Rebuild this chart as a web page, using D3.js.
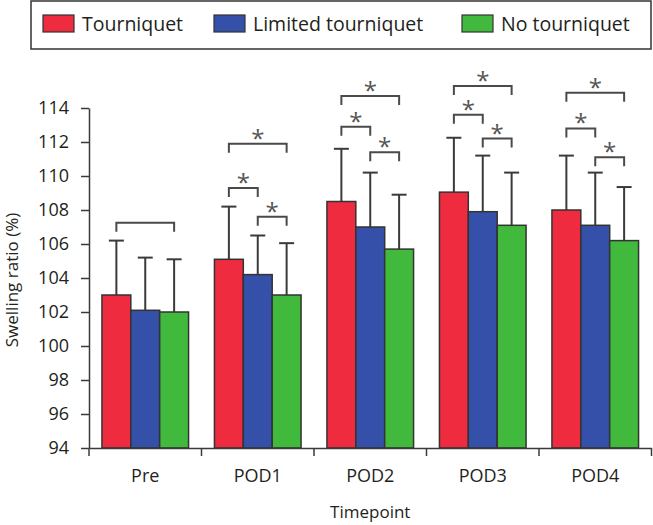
<!DOCTYPE html>
<html>
<head>
<meta charset="utf-8">
<script src="https://cdn.jsdelivr.net/npm/d3@7"></script>
<style>
  html, body { margin: 0; padding: 0; background: #fff; }
  svg { display: block; }
  text { font-family: "Open Sans", "Noto Sans", sans-serif; fill: #231f20; }
</style>
</head>
<body>
<svg id="chart" width="653" height="525"></svg>
<script>
// ---- data ----
const categories = ["Pre", "POD1", "POD2", "POD3", "POD4"];
const seriesNames = ["Tourniquet", "Limited tourniquet", "No tourniquet"];
const seriesColors = ["#ee2b3f", "#3550a8", "#40b93c"];
const tourniquetMean = [103.0, 105.1, 108.5, 109.05, 108.0];
const tourniquetSD   = [3.2, 3.1, 3.1, 3.2, 3.2];
const limitedMean    = [102.1, 104.2, 107.0, 107.9, 107.1];
const limitedSD      = [3.1, 2.3, 3.2, 3.3, 3.1];
const noneMean       = [102.0, 103.0, 105.7, 107.1, 106.2];
const noneSD         = [3.1, 3.05, 3.2, 3.1, 3.15];
const yTicks = [94, 96, 98, 100, 102, 104, 106, 108, 110, 112, 114];
// significance brackets: category index, from series, to series, level (y value), star
const bracketCat   = [0, 1, 1, 1, 2, 2, 2, 3, 3, 3, 4, 4, 4];
const bracketFrom  = [0, 0, 0, 1, 0, 0, 1, 0, 0, 1, 0, 0, 1];
const bracketTo    = [2, 2, 1, 2, 2, 1, 2, 2, 1, 2, 2, 1, 2];
const bracketLevel = [107.25, 111.9, 109.3, 107.6, 114.7, 112.9, 111.4, 115.3, 113.6, 112.2, 114.9, 112.8, 111.1];
const bracketStar  = [false, true, true, true, true, true, true, true, true, true, true, true, true];

const means = [tourniquetMean, limitedMean, noneMean];
const sds = [tourniquetSD, limitedSD, noneSD];

(function draw() {
const svg = d3.select("#chart");
const mLeft = 89, mRight = 651.5, mTop = 108, mBottom = 448;

const x0 = d3.scaleBand().domain(categories).range([mLeft, mRight])
  .paddingInner(0.23).paddingOuter(0.115);
const x1 = d3.scaleBand().domain(d3.range(seriesNames.length)).range([0, x0.bandwidth()]);
const y = d3.scaleLinear().domain([94, 114]).range([mBottom, mTop]);

const lineColor = "#3a3a3a";

// bars
const groups = svg.append("g").selectAll("g").data(categories).join("g")
  .attr("transform", d => `translate(${x0(d)},0)`);

groups.each(function(cat, ci) {
  const g = d3.select(this);
  seriesNames.forEach((s, si) => {
    const v = means[si][ci];
    const sd = sds[si][ci];
    const cx = x1(si) + x1.bandwidth() / 2;
    g.append("line").attr("x1", cx).attr("x2", cx)
      .attr("y1", y(v)).attr("y2", y(v + sd))
      .attr("stroke", lineColor).attr("stroke-width", 2);
    g.append("line").attr("x1", cx - 7.5).attr("x2", cx + 7.5)
      .attr("y1", y(v + sd)).attr("y2", y(v + sd))
      .attr("stroke", lineColor).attr("stroke-width", 2);
    g.append("rect")
      .attr("x", x1(si)).attr("width", x1.bandwidth())
      .attr("y", y(v)).attr("height", y(94) - y(v))
      .attr("fill", seriesColors[si])
      .attr("stroke", "#333").attr("stroke-width", 1.5);
  });
});

// brackets
const legLen = 9;
bracketCat.forEach((ci, i) => {
  const base = x0(categories[ci]);
  const xa = base + x1(bracketFrom[i]) + x1.bandwidth() / 2;
  const xb = base + x1(bracketTo[i]) + x1.bandwidth() / 2;
  const yy = y(bracketLevel[i]);
  svg.append("path")
    .attr("d", `M${xa},${yy + legLen}V${yy}H${xb}V${yy + legLen}`)
    .attr("fill", "none").attr("stroke", "#4a4a4a").attr("stroke-width", 2);
  if (bracketStar[i]) {
    svg.append("text").attr("x", (xa + xb) / 2).attr("y", yy + 3)
      .attr("text-anchor", "middle").style("font-size", "24px").style("fill", "#555")
      .text("*");
  }
});

// y axis
const yAxis = svg.append("g").attr("transform", `translate(${mLeft},0)`)
  .call(d3.axisLeft(y).tickValues(yTicks).tickSize(8).tickSizeOuter(0).tickPadding(12).tickFormat(d3.format("d")));
yAxis.select(".domain").attr("stroke", lineColor).attr("stroke-width", 1.5);
yAxis.selectAll(".tick line").attr("stroke", lineColor).attr("stroke-width", 1.5);
yAxis.selectAll(".tick text").style("font-size", "18px").style("fill", "#231f20")
  .style("font-family", "'Open Sans', sans-serif");

// x axis
const xAxis = svg.append("g").attr("transform", `translate(0,${mBottom})`)
  .call(d3.axisBottom(x0).tickSize(0).tickSizeOuter(0).tickPadding(21));
xAxis.select(".domain").attr("stroke", lineColor).attr("stroke-width", 1.5);
xAxis.selectAll(".tick text").style("font-size", "18px").style("fill", "#231f20")
  .style("font-family", "'Open Sans', sans-serif");
const halfGap = x0.step() * x0.paddingInner() / 2;
const boundaries = categories.map(c => x0(c) - halfGap)
  .concat([x0(categories[categories.length - 1]) + x0.bandwidth() + halfGap]);
xAxis.selectAll("line.bt").data(boundaries).join("line").attr("class", "bt")
  .attr("x1", d => d).attr("x2", d => d).attr("y1", 0).attr("y2", 8)
  .attr("stroke", lineColor).attr("stroke-width", 1.5);

// axis titles
svg.append("text").attr("x", (mLeft + mRight) / 2).attr("y", 518)
  .attr("text-anchor", "middle").style("font-size", "17px").text("Timepoint");
svg.append("text").attr("transform", `translate(18,${(mTop + mBottom) / 2 + 2}) rotate(-90)`)
  .attr("text-anchor", "middle").style("font-size", "17px").text("Swelling ratio (%)");

// legend
const legend = svg.append("g");
legend.append("rect").attr("x", 31).attr("y", 1).attr("width", 620).attr("height", 48)
  .attr("fill", "#fff").attr("stroke", "#333").attr("stroke-width", 1.5);
const legendX = [43, 214, 462];
seriesNames.forEach((s, i) => {
  legend.append("rect").attr("x", legendX[i]).attr("y", 15).attr("width", 31).attr("height", 17)
    .attr("fill", seriesColors[i]).attr("stroke", "#333").attr("stroke-width", 1.2);
  legend.append("text").attr("x", legendX[i] + 39).attr("y", 30.5)
    .style("font-size", "19.5px").text(s);
});
})();
</script>
</body>
</html>
